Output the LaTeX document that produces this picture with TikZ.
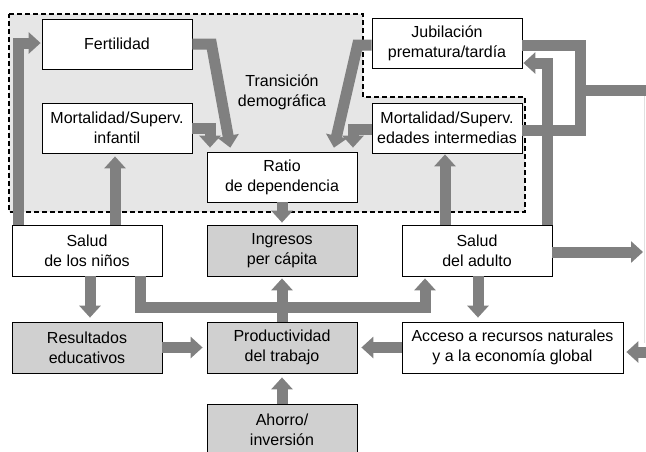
\documentclass[tikz,border=0pt]{standalone}
\usepackage{fontspec}
\setmainfont{Liberation Sans}
\usetikzlibrary{arrows.meta,calc}
\definecolor{flowgray}{HTML}{808080}
\definecolor{zonefill}{HTML}{E6E6E6}
\definecolor{boxgray}{HTML}{D0D0D0}

\begin{document}
\begin{tikzpicture}[x=1pt,y=-1pt,
  box/.style={draw=black, line width=0.8pt, fill=white, minimum width=150pt,
    minimum height=50pt, inner sep=0pt, align=center,
    font=\fontsize{16}{20}\selectfont},
  graybox/.style={box, fill=boxgray},
  flow/.style={draw=flowgray, line width=11pt, line join=miter},
  flowarrow/.style={flow, -{Triangle[width=21pt,length=12pt]}, shorten >=4pt},
  label/.style={align=center, font=\fontsize{16}{20}\selectfont},
]
\useasboundingbox (0,0) rectangle (646,451);
\clip (0,0) rectangle (646,451);

% demographic transition zone
\draw[fill=zonefill, line width=1.4pt, dash pattern=on 5pt off 3pt]
  (9,14) -- (363,14) -- (363,97) -- (525,97) -- (525,212) -- (9,212) -- cycle;

% boxes
\node[box] (fert) at (117,44) {Fertilidad};
\node[box] (mortinf) at (117,128) {Mortalidad/Superv.\\infantil};
\node[box] (ratio) at (282,177) {Ratio\\de dependencia};
\node[box] (jub) at (447,43.5) {Jubilación\\prematura/tardía};
\node[box] (mortad) at (447,128) {Mortalidad/Superv.\\edades intermedias};
\node[box, minimum height=51pt] (saludn) at (87,250.5) {Salud\\de los niños};
\node[graybox, minimum height=51pt] (ingr) at (282,250.5) {Ingresos\\per cápita};
\node[box, minimum height=51pt] (saluda) at (477,250.5) {Salud\\del adulto};
\node[graybox, minimum height=51pt] (result) at (87,347.5) {Resultados\\educativos};
\node[graybox, minimum height=51pt] (prod) at (282,347.5) {Productividad\\del trabajo};
\node[box, minimum height=51pt, minimum width=221pt] (acceso) at (512.5,347.5)
  {Acceso a recursos naturales\\y a la economía global};
\node[graybox, minimum height=51pt] (ahorro) at (282,429.5) {Ahorro/\\inversión};
\node[label] (trans) at (282,92) {Transición\\demográfica};

% free ends at the right margin
\coordinate (eastout) at (643,252);
\coordinate (eastin) at (646,352);
\coordinate (rightedge) at (646,90);

% faint margin rule
\draw[draw=black!12, line width=0.8pt] (644.5,95) -- (644.5,343);

% connectors into the dependency ratio
\draw[flowarrow] (fert.east) -- ($(fert.east)+(19,0)$) -- ($(ratio.north)+(-51,0)$);
\draw[flowarrow] (mortinf.east) -| ($(ratio.north)+(-72,0)$);
\draw[flowarrow] ($(jub.west)+(0,1.5)$) -- ($(jub.west)+(-14,1.5)$) -- ($(ratio.north)+(51,0)$);
\draw[flowarrow] ($(mortad.west)+(0,1)$) -| ($(ratio.north)+(71,0)$);

% child health
\draw[flowarrow, shorten >=1pt] ($(saludn.north)+(-69,0)$) |- ($(fert.west)+(0,-1)$);
\draw[flowarrow, shorten >=3pt] ($(saludn.north)+(28,0)$) -- ($(mortinf.south)+(-2,0)$);
\draw[flowarrow] ($(saludn.south)+(3,0)$) -- ($(result.north)+(3,0)$);
\draw[flowarrow, shorten >=2pt] ($(saludn.south)+(53,0)$) -- ++(0,31) -| ($(saluda.south)+(-52,0)$);

% income and productivity
\draw[flowarrow, shorten >=2pt] (ratio.south) -- (ingr.north);
\draw[flowarrow, shorten >=2pt] (prod.north) -- (ingr.south);
\draw[flowarrow] (ahorro.north) -- (prod.south);
\draw[flowarrow] (result.east) -- (prod.west);
\draw[flowarrow] (acceso.west) -- (prod.east);

% adult health
\draw[flowarrow, shorten >=1pt] ($(saluda.north)+(-32,0)$) -- ($(mortad.south)+(-2,0)$);
\draw[flowarrow, shorten >=1pt] ($(saluda.north)+(70,0)$) |- ($(jub.east)+(0,19.5)$);
\draw[flowarrow] ($(saluda.south)+(1,0)$) -- ($(acceso.north)+(-34.5,0)$);
\draw[flowarrow, shorten >=0pt] (saluda.east |- eastout) -- (eastout);

% retirement and mid-age mortality towards the right
\draw[flow] ($(jub.east)+(0,1.5)$) -| ($(mortad.east)+(58,2)$) -- ($(mortad.east)+(0,2)$);
\draw[flow] ($(mortad.east)+(58,-38)$) -- (rightedge);
\draw[flowarrow, shorten >=3pt] (eastin) -- (acceso.east |- eastin);
\end{tikzpicture}
\end{document}
